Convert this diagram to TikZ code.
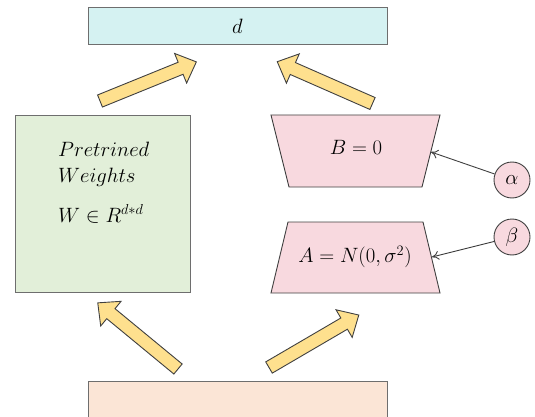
\documentclass[tikz,border=0pt]{standalone}
\usepackage{amssymb}
\usetikzlibrary{arrows.meta}
\definecolor{topc}{HTML}{D5F2F2}
\definecolor{greenc}{HTML}{E2EFD9}
\definecolor{pinkc}{HTML}{F8D9DF}
\definecolor{peachc}{HTML}{FBE5D6}
\definecolor{yelc}{HTML}{FEE08E}
\definecolor{edgec}{HTML}{6E6E6E}
\definecolor{darkc}{HTML}{404040}
\tikzset{
  box/.style={draw=edgec, line width=0.9pt, inner sep=0pt},
  pinkbox/.style={draw=darkc, line width=0.9pt, fill=pinkc},
  txt/.style={font=\fontsize{22}{26}\selectfont, inner sep=0pt},
  circ/.style={circle, draw=darkc, line width=0.9pt, fill=pinkc, minimum size=36pt, inner sep=0pt, font=\fontsize{21}{25}\selectfont},
  thinarrow/.style={draw=darkc, line width=0.9pt, -{To[length=7pt,width=9pt]}},
  yarrow/.style={draw=darkc, line width=0.9pt, fill=yelc, line join=miter},
  pics/blockarrow/.style={code={
    \draw[yarrow] (0,-6.5) -- (87,-6.5) -- (87,-16) -- (104,0) -- (87,16) -- (87,6.5) -- (0,6.5) -- cycle;}}
}
\begin{document}
\begin{tikzpicture}[x=1pt,y=-1pt]
\clip (0,0) rectangle (535,417);
% boxes
\node[box, fill=topc, minimum width=299pt, minimum height=37pt] (top) at (237.5,25.5) {};
\node[txt] (dlabel) at (237.5,26) {$d$};
\node[box, fill=greenc, minimum width=175pt, minimum height=177pt] (W) at (102.5,203.5) {};
\node[txt, anchor=base west] (w1) at (58,157) {$Pretrined$};
\node[txt, anchor=base west] (w2) at (58,182) {$Weights$};
\node[txt, anchor=base west] (w3) at (58,222) {$W\in R^{d*d}$};
\node[box, fill=peachc, minimum width=299pt, minimum height=60pt] (bottom) at (237.5,411) {};
% trapezoids
\draw[pinkbox] (271,115) -- (440,115) -- (422,187) -- (289,187) -- cycle;
\node[txt] (B) at (356,147) {$B=0$};
\draw[pinkbox] (288,222) -- (423,222) -- (440,293) -- (271,293) -- cycle;
\node[txt] (A) at (355,257) {$A=N(0,\sigma^2)$};
% circles
\node[circ] (alpha) at (512,180) {$\alpha$};
\node[circ] (beta) at (512,237) {$\beta$};
\coordinate (Bin) at (431,152);
\coordinate (Ain) at (432,257);
\draw[thinarrow] (alpha) -- (Bin);
\draw[thinarrow] (beta) -- (Ain);
% block arrows
\pic[rotate=22.1] at (100,101) {blockarrow};
\pic[rotate=156.3] at (372.5,103.5) {blockarrow};
\pic[rotate=140.5] at (178,369) {blockarrow};
\pic[rotate=30.3] at (269,367.5) {blockarrow};
\end{tikzpicture}
\end{document}
